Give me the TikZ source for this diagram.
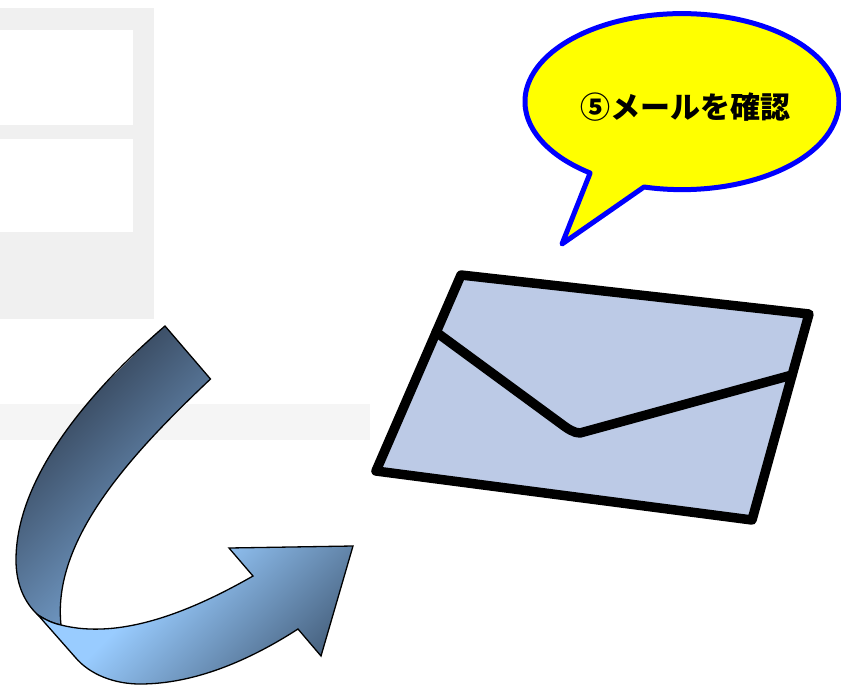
\documentclass[tikz,border=0pt]{standalone}
\usepackage{fontspec}
\newfontfamily\cjk{Noto Sans CJK JP}
\definecolor{panel}{HTML}{F0F0F0}
\definecolor{band}{HTML}{F5F5F5}
\definecolor{envfill}{HTML}{BCCAE6}
\definecolor{backdark}{HTML}{3D5068}
\definecolor{backlight}{HTML}{6F97C2}
\definecolor{frontlight}{HTML}{99CCFF}
\definecolor{frontdark}{HTML}{46607D}
\definecolor{bubblefill}{RGB}{255,255,0}
\definecolor{bubbleline}{RGB}{0,0,255}
\tikzset{
  envline/.style={line width=9.5pt,line join=round,line cap=round,draw=black},
  arrowline/.style={draw=black,line width=1.3pt,line join=miter},
  bubble/.style={draw=bubbleline,fill=bubblefill,line width=5pt,line join=round},
  bubbletext/.style={font=\cjk\bfseries\fontsize{30}{30}\selectfont,text=black,inner sep=0pt}
}
\newcommand{\backpath}{(165,326) .. controls (85,395) and (16,480) .. (16,560)
  .. controls (16,585) and (25,603) .. (38,615)
  .. controls (46,620) and (52,623) .. (61,625)
  .. controls (52,540) and (130,455) .. (210.5,379) -- cycle}
\newcommand{\frontpath}{(38,615) -- (75,657) .. controls (90,675) and (115,684) .. (140,684)
  .. controls (195,684) and (250,660) .. (298,629)
  -- (321,656) -- (353,546) -- (229,548) -- (253,576)
  .. controls (190,612) and (120,640) .. (61,625)
  .. controls (52,623) and (46,620) .. (38,615) -- cycle}
\begin{document}
\begin{tikzpicture}[x=1pt,y=-1pt]
\useasboundingbox (0,0) rectangle (841,686);
% background panels
\fill[panel] (0,8) rectangle (154,319);
\fill[white] (0,29.5) rectangle (133,124.5);
\fill[white] (0,139) rectangle (133,232);
\fill[band] (0,404) rectangle (370,440);
% curved arrow: back strip
\begin{scope}
  \clip \backpath;
  \shade[transform canvas={rotate=-45},left color=backdark,right color=backlight] (346,-1000) rectangle (490,1000);
\end{scope}
\draw[arrowline] \backpath;
% curved arrow: front strip
\begin{scope}
  \clip \frontpath;
  \fill[frontlight,transform canvas={rotate=-45}] (450,-1000) rectangle (528,1000);
  \shade[transform canvas={rotate=-45},left color=frontlight,right color=frontdark] (527,-1000) rectangle (692,1000);
\end{scope}
\draw[arrowline] \frontpath;
% envelope
\draw[envline,fill=envfill] (461,275) -- (809,314) -- (752,520) -- (376,471) -- cycle;
\draw[envline] (436,332) -- (560,423) .. controls (568,429) and (574,433) .. (580,433) -- (792,375);
% speech bubble
\draw[bubble] (644,187) arc[start angle=104,end angle=-234.2,x radius=157,y radius=88] -- (562,244) -- cycle;
\node[bubbletext] (label) at (685,107) {⑤メールを確認};
\end{tikzpicture}
\end{document}
